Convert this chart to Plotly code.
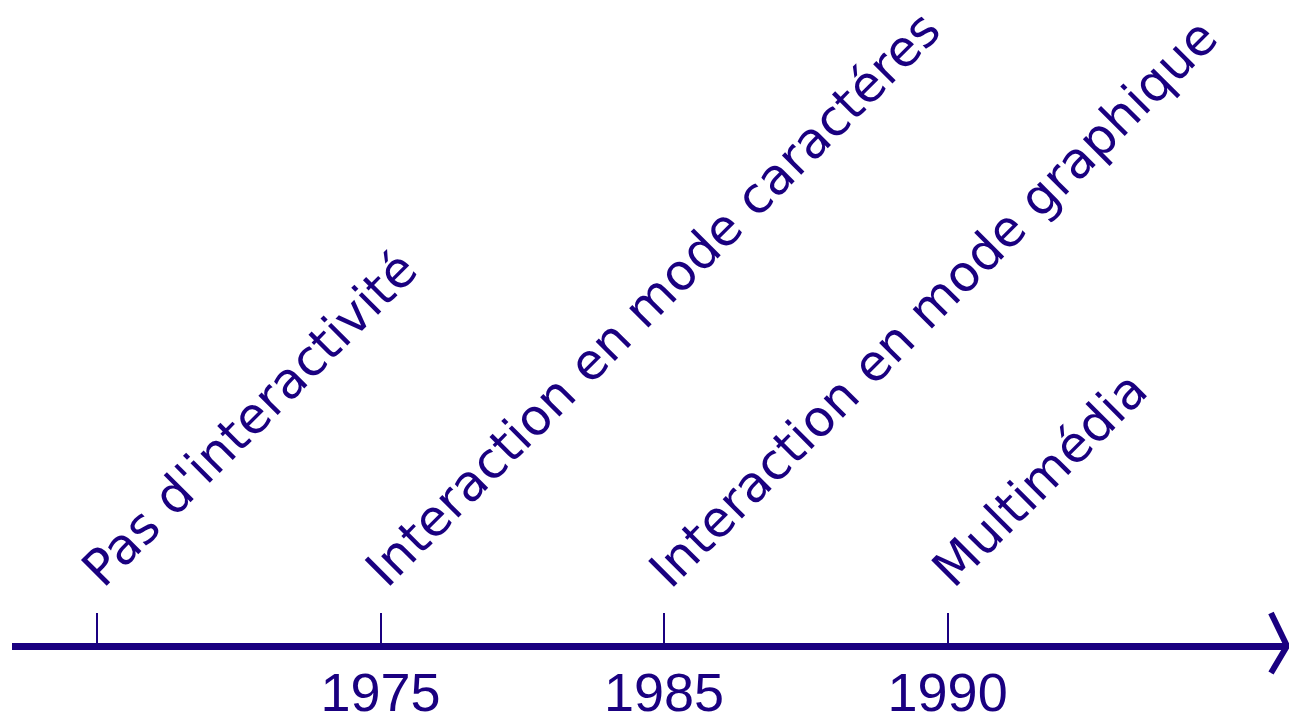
import plotly.graph_objects as go

# Data
milestones = ["Pas d'interactivité", "Interaction en mode caractéres",
              "Interaction en mode graphique", "Multimédia"]
positions = [0, 1, 2, 3]
year_labels = ["", "1975", "1985", "1990"]

color = "#1a0080"
font_family = "DejaVu Sans"
x_range = [-0.3, 4.19]

fig = go.Figure()
fig.add_trace(go.Scatter(x=positions, y=[0] * len(positions), mode="markers",
                         marker=dict(size=1, opacity=0), hoverinfo="skip",
                         showlegend=False))

for p, label in zip(positions, milestones):
    fig.add_annotation(x=p, y=0, xref="x", yref="y", text=label,
                       showarrow=False, textangle=-45, xanchor="left",
                       yanchor="bottom", xshift=-29, yshift=42,
                       font=dict(family=font_family, size=50, color=color))

# arrow head (chevron) at the right end of the axis
fig.add_shape(type="path", xref="paper", yref="paper",
              xsizemode="pixel", ysizemode="pixel",
              xanchor=1, yanchor=0,
              path="M -14 30 L 2 -3 L -14 -30",
              line=dict(color=color, width=6), layer="above")

fig.update_layout(
    width=1289, height=725,
    margin=dict(l=12, r=4, t=0, b=82, autoexpand=False),
    plot_bgcolor="white", paper_bgcolor="white",
    xaxis=dict(range=x_range, tickvals=positions, ticktext=year_labels,
               ticks="inside", ticklen=30, tickwidth=2, tickcolor=color,
               showline=True, linecolor=color, linewidth=7, automargin=False,
               showgrid=False, zeroline=False, ticklabelstandoff=-4,
               tickfont=dict(family="Liberation Sans", size=54, color=color)),
    yaxis=dict(range=[0, 1], visible=False, showgrid=False),
)

fig.write_html("out.html", config={"displayModeBar": False},
               post_script="document.body.style.margin='0';"
                           "document.body.style.overflow='hidden';")
